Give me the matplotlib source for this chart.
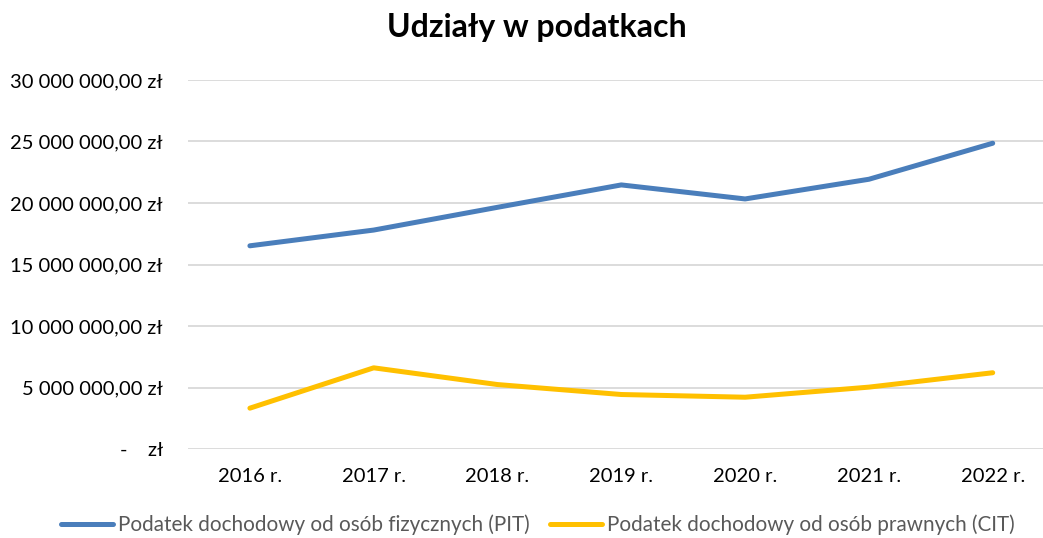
import numpy as np
import matplotlib.pyplot as plt

plt.rcParams['font.family'] = ['Lato', 'DejaVu Sans']

years = ["2016 r.", "2017 r.", "2018 r.", "2019 r.", "2020 r.", "2021 r.", "2022 r."]
pit = [16.52e6, 17.80e6, 19.65e6, 21.47e6, 20.33e6, 21.93e6, 24.86e6]
cit = [3.32e6, 6.60e6, 5.24e6, 4.43e6, 4.21e6, 5.03e6, 6.20e6]
yticks = [0, 5e6, 10e6, 15e6, 20e6, 25e6, 30e6]


def zl(v):
    if v == 0:
        return "-    zł"
    s = f"{v:,.2f}".replace(",", " ").replace(".", ",")
    return s + " zł"


fig = plt.figure(figsize=(10.43, 5.38), dpi=100)
ax = fig.add_axes([188 / 1043, 1 - 449 / 538, (1043 - 188) / 1043, 369 / 538])

x = np.arange(len(years))
ax.plot(x, pit, color="#4A7EBB", lw=3.6, solid_capstyle="round",
        label="Podatek dochodowy od osób fizycznych (PIT)")
ax.plot(x, cit, color="#FFC000", lw=3.6, solid_capstyle="round",
        label="Podatek dochodowy od osób prawnych (CIT)")

ax.set_xlim(-0.5, -0.5 + (1043 - 188) / 123.8)
ax.set_ylim(0, 30e6)
ax.set_xticks(x)
ax.set_xticklabels(years, fontsize=14.5)
ax.set_yticks(yticks)
ax.set_yticklabels([zl(v) for v in yticks], fontsize=14.5)
ax.tick_params(axis="y", length=0, pad=18, colors="#000000")
ax.tick_params(axis="x", length=0, pad=14)
ax.grid(axis="y", color="#D9D9D9", lw=1.3)
ax.set_axisbelow(True)
for s in ax.spines.values():
    s.set_visible(False)

fig.suptitle("Udziały w podatkach", x=537 / 1043, y=1 - 28 / 538, va="center",
             fontsize=23, fontweight="bold")

leg = fig.legend(loc="center", bbox_to_anchor=(538 / 1043, 1 - 525 / 538), ncol=2,
                 frameon=False, fontsize=14.9, handlelength=2.5, handletextpad=0.25,
                 columnspacing=1.0, labelcolor="#595959")

fig.savefig("out.png", dpi=100)
